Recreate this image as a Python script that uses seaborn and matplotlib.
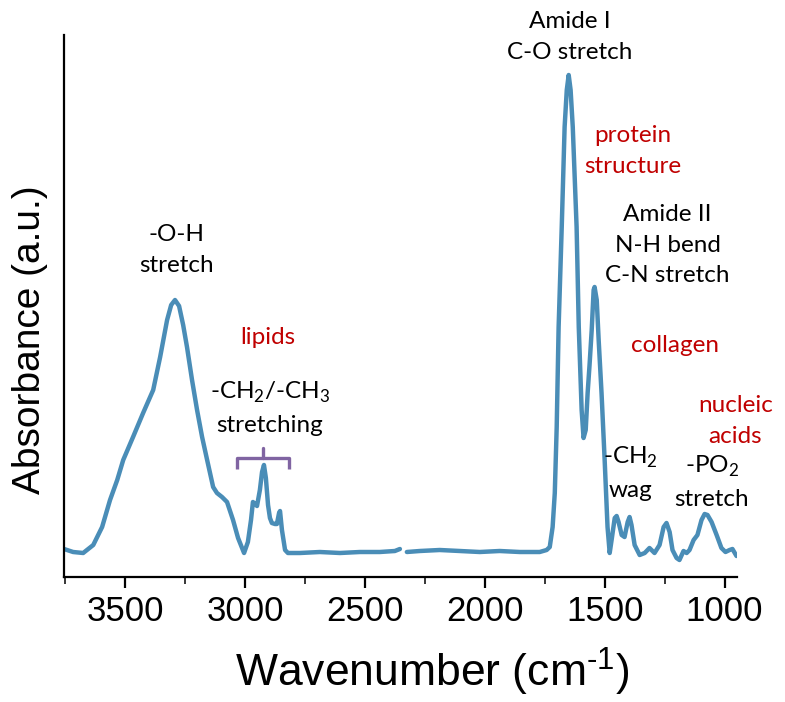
import matplotlib
matplotlib.use("Agg")
import matplotlib.pyplot as plt
import numpy as np
import pandas as pd
import seaborn as sns

# FTIR spectrum of tissue: wavenumber (cm-1) and absorbance (a.u.)
wavenumber = [
    3755, 3717, 3675, 3633, 3596, 3563, 3533, 3508, 3467, 3425, 3383, 3354,
    3325, 3308, 3292, 3275, 3258, 3242, 3221, 3200, 3179, 3158, 3133, 3117,
    3096, 3075, 3050, 3029, 3004, 2988, 2975, 2967, 2958, 2950, 2938, 2929,
    2921, 2913, 2904, 2896, 2888, 2875, 2867, 2858, 2854, 2846, 2833, 2821,
    2771, 2688, 2604, 2521, 2438, 2375, 2354,
    2325, 2271, 2188, 2104, 2021, 1938, 1854, 1771, 1742, 1729, 1717, 1708,
    1700, 1692, 1679, 1667, 1658, 1650, 1642, 1633, 1617, 1608, 1596, 1588,
    1579, 1571, 1563, 1554, 1546, 1542, 1533, 1525, 1513, 1500, 1488, 1479,
    1471, 1458, 1450, 1442, 1429, 1417, 1404, 1396, 1388, 1375, 1354, 1333,
    1313, 1292, 1271, 1254, 1242, 1229, 1217, 1200, 1188, 1171, 1158, 1146,
    1129, 1113, 1096, 1083, 1071, 1054, 1033, 1013, 996, 979, 967, 950,
]
absorbance = [
    0.056, 0.050, 0.048, 0.064, 0.100, 0.154, 0.194, 0.234, 0.280, 0.328, 0.374, 0.440,
    0.514, 0.544, 0.554, 0.542, 0.504, 0.460, 0.394, 0.334, 0.280, 0.234, 0.180, 0.168,
    0.160, 0.150, 0.114, 0.078, 0.048, 0.070, 0.114, 0.150, 0.146, 0.142, 0.174, 0.210,
    0.224, 0.198, 0.144, 0.118, 0.108, 0.106, 0.106, 0.128, 0.132, 0.094, 0.054, 0.048,
    0.048, 0.050, 0.048, 0.050, 0.050, 0.052, 0.056,
    0.050, 0.052, 0.054, 0.052, 0.050, 0.052, 0.050, 0.050, 0.054, 0.060, 0.100, 0.168,
    0.300, 0.500, 0.700, 0.900, 0.974, 1.004, 0.974, 0.900, 0.700, 0.500, 0.334, 0.278,
    0.294, 0.368, 0.424, 0.494, 0.574, 0.580, 0.554, 0.474, 0.368, 0.234, 0.100, 0.048,
    0.074, 0.118, 0.122, 0.110, 0.084, 0.080, 0.110, 0.120, 0.104, 0.064, 0.044, 0.048,
    0.058, 0.048, 0.064, 0.100, 0.108, 0.090, 0.054, 0.038, 0.034, 0.052, 0.048, 0.054,
    0.074, 0.084, 0.114, 0.126, 0.124, 0.110, 0.084, 0.058, 0.050, 0.054, 0.056, 0.042,
]
# the recorded trace has a short break near 2350 cm-1
gap_at = 2340

x_ticks = [3500, 3000, 2500, 2000, 1500, 1000]

# band annotations: (text, wavenumber, absorbance, colour)
band_labels = [
    ("Amide I\nC-O stretch", 1646, 1.080, "black"),
    ("protein\nstructure", 1383, 0.852, "red"),
    ("Amide II\nN-H bend\nC-N stretch", 1238, 0.664, "black"),
    ("collagen", 1208, 0.462, "red"),
    ("nucleic\nacids", 954, 0.312, "red"),
    ("-O-H\nstretch", 3287, 0.654, "black"),
    ("lipids", 2904, 0.478, "red"),
    ("-CH$_{\\mathregular{2}}$/-CH$_{\\mathregular{3}}$\nstretching", 2896, 0.338, "black"),
    ("-CH$_{\\mathregular{2}}$\nwag", 1392, 0.208, "black"),
    ("-PO$_{\\mathregular{2}}$\nstretch", 1054, 0.190, "black"),
]

# bracket grouping the C-H stretching bands
bracket_x = [3033, 3033, 2817, 2817]
bracket_y = [0.216, 0.238, 0.238, 0.216]
bracket_tick_x = [2925, 2925]
bracket_tick_y = [0.238, 0.258]

LINE = "#4a8db7"
RED = "#c00000"
PURPLE = "#8064a2"

sns.set_style("ticks")
plt.rcParams["font.family"] = ["Liberation Sans", "DejaVu Sans"]
plt.rcParams["text.color"] = "black"
plt.rcParams["axes.labelcolor"] = "black"
plt.rcParams["xtick.color"] = "black"
plt.rcParams["xtick.labelcolor"] = "black"

df = pd.DataFrame({"wavenumber": wavenumber, "absorbance": absorbance})
df["segment"] = np.where(df["wavenumber"] > gap_at, 0, 1)

fig = plt.figure(figsize=(7.85, 7.02), dpi=100)
ax = fig.add_axes([64 / 785, 1 - 577 / 702, 673 / 785, 542 / 702])

sns.lineplot(data=df, x="wavenumber", y="absorbance", units="segment",
             estimator=None, sort=False, color=LINE, linewidth=3.2,
             solid_capstyle="round", solid_joinstyle="round", ax=ax)

ax.plot(bracket_x, bracket_y, color=PURPLE, lw=2.4, solid_capstyle="butt")
ax.plot(bracket_tick_x, bracket_tick_y, color=PURPLE, lw=2.4)

for text, x, y, c in band_labels:
    ax.text(x, y, text, ha="center", va="center", fontsize=17.5,
            color=RED if c == "red" else "black", family=["Lato", "DejaVu Sans"],
            linespacing=1.55)

ax.set_xlim(3755, 948)
ax.set_ylim(0, 1.084)
ax.set_xticks(x_ticks)
ax.set_xticks(np.arange(3750, 940, -250), minor=True)
ax.set_yticks([])
ax.tick_params(axis="x", which="major", length=8, width=1.6, labelsize=25,
               pad=5, color="black", labelcolor="black")
ax.tick_params(axis="x", which="minor", length=5, width=1.1, color="black")

for side in ("top", "right"):
    ax.spines[side].set_visible(False)
for side in ("left", "bottom"):
    ax.spines[side].set_color("black")
    ax.spines[side].set_linewidth(1.6)

ax.set_xlabel("Wavenumber (cm$^{\\mathregular{\u2010 1}}$)", fontsize=32, va="center", color="black")
ax.xaxis.set_label_coords(0.547, -0.175)
ax.set_ylabel("Absorbance (a.u.)", fontsize=28, va="center", color="black")
ax.yaxis.set_label_coords(-0.0505, 0.437)

fig.savefig("out.png", dpi=100)
